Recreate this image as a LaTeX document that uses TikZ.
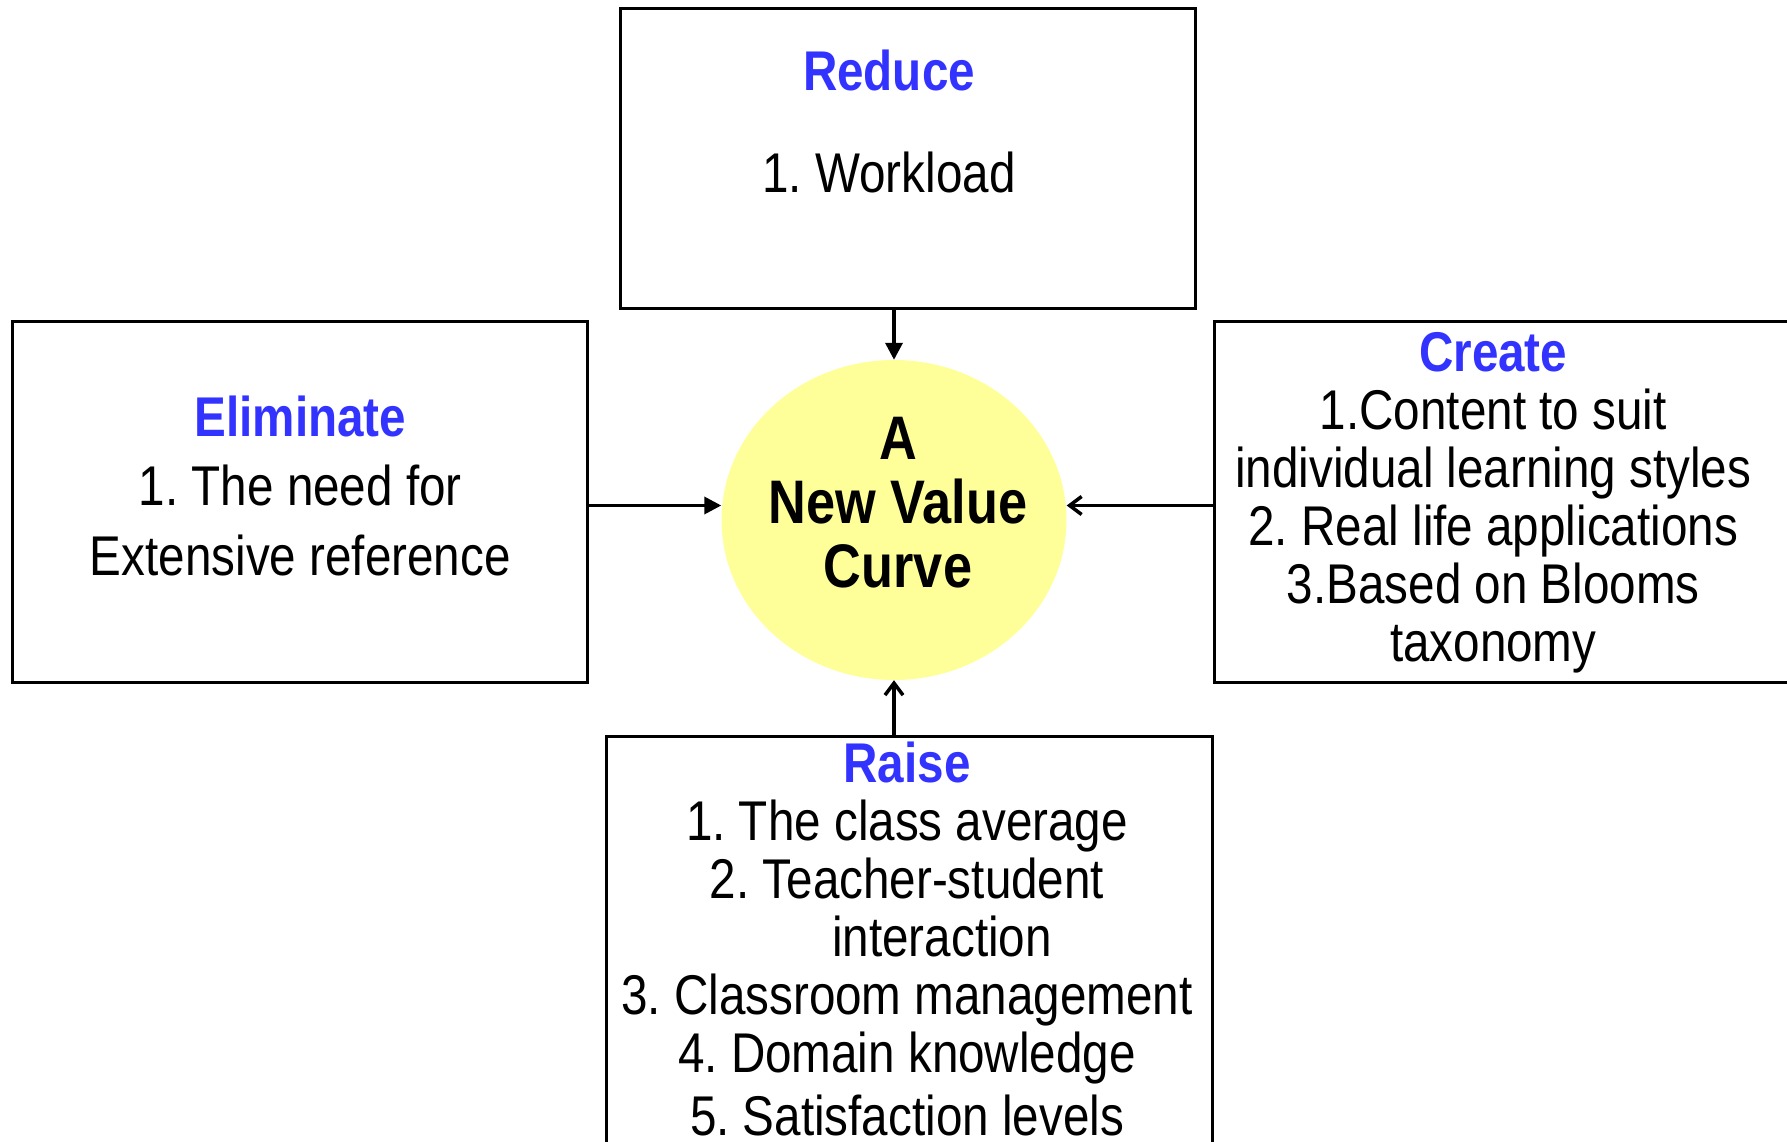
\documentclass[tikz,border=0pt]{standalone}
\usepackage{fontspec}
\setmainfont{Liberation Sans}[FakeStretch=0.85]
\usepackage{tikz}
\usetikzlibrary{positioning,arrows.meta,shapes.geometric}
\definecolor{titleblue}{RGB}{51,51,255}
\definecolor{curveyellow}{RGB}{255,255,153}
\newcommand{\boxtitle}[1]{\textcolor{titleblue}{\textbf{#1}}}
\frenchspacing

\begin{document}
\begin{tikzpicture}[x=1pt,y=-1pt,
    box/.style={draw,line width=3pt,inner sep=0pt,minimum width=575pt},
    txt/.style={align=center,inner sep=0pt,font=\fontsize{56}{58}\selectfont},
    fwd/.style={line width=3.5pt,-{Triangle[length=17pt,width=17pt]}},
    bwd/.style={line width=3.5pt,-{Straight Barb[length=12pt,width=18pt]}}] %
    \useasboundingbox (0,0) rectangle (1787,1142) ; %
    \clip (0,0) rectangle (1787,1142) ; %
    \node[ellipse, fill=curveyellow, minimum width=345pt, minimum height=320pt, inner sep=0pt] (curve) at (894,520) {} ; %
    \node[box, minimum height=300pt, above=50pt of curve, xshift=14pt] (reduce) {} ; %
    \node[box, minimum height=361pt, left=132pt of curve, yshift=18.5pt] (elim) {} ; %
    \node[box, minimum width=580pt, minimum height=361pt, right=146pt of curve, yshift=18.5pt] (create) {} ; %
    \node[box, minimum width=606pt, minimum height=420pt, below=55pt of curve, xshift=15pt] (raise) {} ; %
    \node[txt, font=\bfseries\fontsize{61.5}{64}\selectfont] (curvetxt) at ([xshift=4pt,yshift=17.5pt]curve.center) {A\\New Value\\Curve} ; %
    \node[txt] (reducetxt) at ([xshift=-19pt,yshift=37pt]reduce.center) {\boxtitle{Reduce}\\[44pt]1. Workload} ;
    \node[txt, font=\fontsize{56}{69.5}\selectfont] (elimtxt) at ([yshift=16pt]elim.center) {\boxtitle{Eliminate}\\1. The need for\\Extensive reference} ;
    \node[txt] (createtxt) at ([xshift=-11pt,yshift=-1pt]create.center) {\boxtitle{Create}\\1.Content to suit\\individual learning styles\\2. Real life applications\\3.Based on Blooms\\taxonomy} ;
    \node[txt] (raisetxt) at ([xshift=-2pt,yshift=8pt]raise.center) {\boxtitle{Raise}\\1. The class average\\2. Teacher-student\\\hspace*{70pt}interaction\\3. Classroom management\\4. Domain knowledge\\[5pt]5. Satisfaction levels} ;
    \draw[fwd] (reduce.south -| curve.north) -- (curve.north) ; %
    \draw[fwd] ([yshift=-4pt]elim.east) -- ([yshift=-4pt]elim.east -| curve.west) ;
    \draw[bwd] ([yshift=-4pt]create.west) -- ([yshift=-4pt]create.west -| curve.east) ;
    \draw[bwd] (raise.north -| curve.south) -- (curve.south) ;
  \end{tikzpicture}
\end{document}
